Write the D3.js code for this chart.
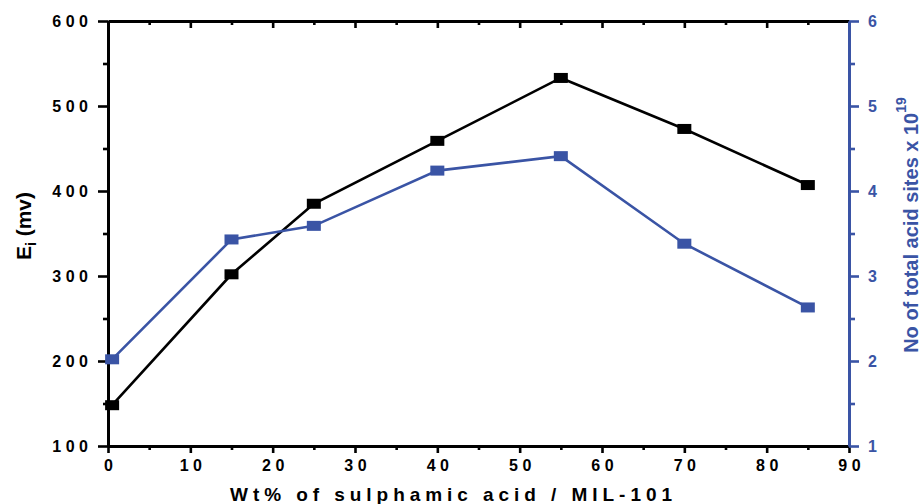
<!DOCTYPE html>
<html><head><meta charset="utf-8">
<script src="https://cdn.jsdelivr.net/npm/d3@7"></script>
<style>
html,body{margin:0;padding:0;background:#fff;}
svg{display:block;font-family:"Liberation Sans",Arial,Helvetica,sans-serif;}
</style></head>
<body>
<svg id="chart" width="921" height="504"></svg>
<script>
// ---- data ----
const wtPercent = [0.5, 15, 25, 40, 55, 70, 85];
const eiValues = [148, 302, 385, 459, 533, 473, 407];
const acidSites = [2.02, 3.43, 3.59, 4.24, 4.41, 3.38, 2.63];
const xTicks = [0, 10, 20, 30, 40, 50, 60, 70, 80, 90];
const yLeftTicks = [100, 200, 300, 400, 500, 600];
const yRightTicks = [1, 2, 3, 4, 5, 6];
const xTitle = "Wt% of sulphamic acid / MIL-101";
const yLeftTitle = ["E", "i", " (mv)"];
const yRightTitle = ["No of total acid sites x 10", "19"];

const BLUE = "#3a54a5";
const svg = d3.select("#chart");
const L = 108, R = 849, T = 21, B = 446;

const x = d3.scaleLinear().domain([0, 90]).range([L, R]);
const yL = d3.scaleLinear().domain([100, 600]).range([B, T]);
const yR = d3.scaleLinear().domain([1, 6]).range([B, T]);

const minor = (arr) => arr.slice(0, -1).map((v, i) => (v + arr[i + 1]) / 2);

function styleAxis(g, color, sw) {
  g.select(".domain").attr("stroke", color).attr("stroke-width", sw);
  g.selectAll(".tick line").attr("stroke", color).attr("stroke-width", 2.6);
  g.selectAll(".tick text").attr("fill", color).attr("font-weight", "bold");
}

// minor ticks (no labels)
const gMin = svg.append("g");
gMin.append("g").attr("transform", `translate(0,${B})`)
  .call(d3.axisBottom(x).tickValues(minor(xTicks)).tickSize(4).tickFormat(""))
  .call(g => { g.select(".domain").remove(); styleAxis(g, "#000", 3); });
gMin.append("g").attr("transform", `translate(0,${T})`)
  .call(d3.axisTop(x).tickValues(minor(xTicks)).tickSize(-4).tickFormat(""))
  .call(g => { g.select(".domain").remove(); styleAxis(g, "#000", 3); });
gMin.append("g").attr("transform", `translate(${L},0)`)
  .call(d3.axisLeft(yL).tickValues(minor(yLeftTicks)).tickSize(5).tickFormat(""))
  .call(g => { g.select(".domain").remove(); styleAxis(g, "#000", 3); });
gMin.append("g").attr("transform", `translate(${R},0)`)
  .call(d3.axisRight(yR).tickValues(minor(yRightTicks)).tickSize(6).tickFormat(""))
  .call(g => { g.select(".domain").remove(); styleAxis(g, BLUE, 3); });

// top axis (major ticks inward)
svg.append("g").attr("transform", `translate(0,${T})`)
  .call(d3.axisTop(x).tickValues(xTicks).tickSizeInner(-7).tickSizeOuter(0).tickFormat(""))
  .call(g => styleAxis(g, "#000", 3));

// bottom axis
svg.append("g").attr("transform", `translate(0,${B})`)
  .call(d3.axisBottom(x).tickValues(xTicks).tickSizeInner(7).tickSizeOuter(0).tickPadding(7).tickFormat(d3.format("d")))
  .call(g => {
    styleAxis(g, "#000", 3);
    g.selectAll(".tick text").attr("font-size", 16).attr("letter-spacing", 4.5).attr("dx", 2.25);
  });

// left axis
svg.append("g").attr("transform", `translate(${L},0)`)
  .call(d3.axisLeft(yL).tickValues(yLeftTicks).tickSizeInner(10).tickSizeOuter(0).tickPadding(10).tickFormat(d3.format("d")))
  .call(g => {
    styleAxis(g, "#000", 3);
    g.selectAll(".tick text").attr("font-size", 16).attr("letter-spacing", 4.5).attr("dx", 4.5);
  });

// right axis
svg.append("g").attr("transform", `translate(${R},0)`)
  .call(d3.axisRight(yR).tickValues(yRightTicks).tickSizeInner(10).tickSizeOuter(0).tickPadding(9).tickFormat(d3.format("d")))
  .call(g => {
    styleAxis(g, BLUE, 3);
    g.selectAll(".tick text").attr("font-size", 16);
  });

// lines
const data = wtPercent.map((w, i) => ({ w, ei: eiValues[i], ac: acidSites[i] }));
const lineEi = d3.line().x(d => x(d.w)).y(d => yL(d.ei));
const lineAc = d3.line().x(d => x(d.w)).y(d => yR(d.ac));
svg.append("path").datum(data).attr("d", lineEi).attr("fill", "none").attr("stroke", "#000").attr("stroke-width", 2.6);
svg.append("path").datum(data).attr("d", lineAc).attr("fill", "none").attr("stroke", BLUE).attr("stroke-width", 2.6);

// markers
const MW = 14, MH = 10;
svg.append("g").selectAll("rect").data(data).join("rect")
  .attr("x", d => x(d.w) - MW / 2).attr("y", d => yL(d.ei) - MH / 2)
  .attr("width", MW).attr("height", MH).attr("fill", "#000");
svg.append("g").selectAll("rect").data(data).join("rect")
  .attr("x", d => x(d.w) - MW / 2).attr("y", d => yR(d.ac) - MH / 2)
  .attr("width", MW).attr("height", MH).attr("fill", BLUE);

// x title
svg.append("text").attr("x", 451).attr("y", 501).attr("text-anchor", "middle")
  .attr("font-size", 19).attr("font-weight", "bold").attr("fill", "#000")
  .attr("textLength", 442).attr("lengthAdjust", "spacing").text(xTitle);

// left title
const lt = svg.append("text").attr("transform", "translate(31,226) rotate(-90)")
  .attr("text-anchor", "middle").attr("font-size", 21).attr("font-weight", "bold").attr("fill", "#000");
lt.append("tspan").text(yLeftTitle[0]);
lt.append("tspan").attr("font-size", 14).attr("dy", 5).text(yLeftTitle[1]);
lt.append("tspan").attr("dy", -5).text(yLeftTitle[2]);

// right title
const rt = svg.append("text").attr("transform", "translate(918,225) rotate(-90)")
  .attr("text-anchor", "middle").attr("font-size", 20).attr("font-weight", "bold").attr("fill", BLUE);
rt.append("tspan").text(yRightTitle[0]);
rt.append("tspan").attr("font-size", 14).attr("dy", -12).text(yRightTitle[1]);
</script>
</body></html>
